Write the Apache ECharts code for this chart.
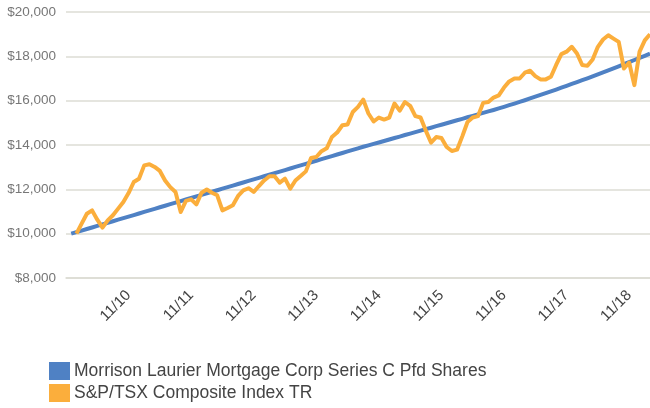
<!DOCTYPE html>
<html>
<head>
<meta charset="utf-8">
<script src="https://cdn.jsdelivr.net/npm/echarts@6/dist/echarts.min.js"></script>
<style>
  html, body { margin: 0; padding: 0; background: #fff; }
  #echarts { width: 650px; height: 408px; }
</style>
</head>
<body>
<div id="echarts"></div>
<script>
    // 图例名称
    var seriesNames = ['Morrison Laurier Mortgage Corp Series C Pfd Shares', 'S&P/TSX Composite Index TR'];

    // 横轴显示的刻度
    var tickLabels = ['11/10', '11/11', '11/12', '11/13', '11/14', '11/15', '11/16', '11/17', '11/18'];

    // 月度数据，第一个为 11/09（空）
    var startYear = 2009;
    var startMonth = 11;

    var blueValues = [null,
        10000, 10070, 10140, 10210, 10280, 10350, 10420, 10490, 10560, 10630, 10700, 10770,
        10840, 10910, 10980, 11050, 11120, 11190, 11260, 11330, 11400, 11470, 11540, 11610,
        11680, 11750, 11820, 11890, 11960, 12030, 12100, 12170, 12240, 12310, 12380, 12450,
        12520, 12590, 12660, 12730, 12800, 12870, 12940, 13010, 13080, 13150, 13220, 13290,
        13360, 13430, 13500, 13570, 13640, 13710, 13780, 13850, 13920, 13985, 14050, 14115,
        14180, 14250, 14315, 14380, 14450, 14515, 14580, 14650, 14715, 14780, 14850, 14915,
        14980, 15050, 15115, 15180, 15250, 15315, 15380, 15450, 15515, 15580, 15650, 15720,
        15795, 15870, 15945, 16020, 16100, 16180, 16260, 16340, 16420, 16500, 16585, 16670,
        16755, 16840, 16925, 17010, 17100, 17190, 17280, 17370, 17460, 17550, 17645, 17740,
        17835, 17930, 18025, 18120];

    var orangeValues = [null, null,
        10000, 10450, 10900, 11050, 10630, 10270, 10600, 10830, 11130, 11430, 11830,
        12330, 12480, 13080, 13130, 13010, 12830, 12400, 12100, 11880, 10980, 11480, 11550,
        11320, 11850, 11990, 11850, 11730, 11050, 11160, 11280, 11700, 11950, 12050, 11880,
        12150, 12400, 12590, 12590, 12300, 12480, 12030, 12400, 12600, 12810, 13410, 13460,
        13720, 13850, 14360, 14560, 14890, 14920, 15490, 15720, 16050, 15420, 15060, 15240,
        15150, 15240, 15870, 15550, 15940, 15770, 15300, 15240, 14650, 14110, 14360, 14320,
        13910, 13730, 13790, 14390, 15040, 15240, 15300, 15900, 15940, 16140, 16240, 16590,
        16870, 17000, 17000, 17260, 17350, 17110, 16960, 16960, 17080, 17610, 18100, 18210,
        18430, 18130, 17610, 17570, 17860, 18430, 18760, 18950, 18800, 18650, 17450, 17720,
        16700, 18210, 18720, 19000];

    function pad(n) {
        return n < 10 ? '0' + n : '' + n;
    }

    var months = [];
    for (var i = 0; i < blueValues.length; i++) {
        var k = startMonth - 1 + i;
        months.push(pad(k % 12 + 1) + '/' + String(startYear + Math.floor(k / 12)).slice(2));
    }

    var fontFamily = '"Liberation Sans", Arial, sans-serif';
    var gridColor = '#dcdcd4';

    var myChart = echarts.init(document.getElementById('echarts'));
    var options = {
        animation: false,
        backgroundColor: '#fff',
        grid: {
            left: 66,
            right: 0,
            top: 12,
            bottom: 130,
            containLabel: false
        },
        legend: {
            orient: 'vertical',
            left: 49,
            top: 362,
            padding: 0,
            itemGap: 4,
            itemWidth: 21,
            itemHeight: 18,
            icon: 'rect',
            selectedMode: false,
            textStyle: {
                fontFamily: fontFamily,
                fontSize: 17.5,
                color: '#444',
                padding: [0, 0, 0, -1]
            },
            data: seriesNames
        },
        xAxis: {
            type: 'category',
            boundaryGap: false,
            data: months,
            axisLine: { show: true, lineStyle: { color: gridColor, width: 1.5 } },
            axisTick: { show: false },
            splitLine: { show: false },
            axisLabel: {
                rotate: 45,
                margin: 15,
                fontFamily: fontFamily,
                fontSize: 15,
                color: '#444',
                interval: function (index, value) {
                    return tickLabels.indexOf(value) !== -1;
                }
            }
        },
        yAxis: {
            type: 'value',
            min: 8000,
            max: 20000,
            interval: 2000,
            axisLine: { show: false },
            axisTick: { show: false },
            splitLine: { lineStyle: { color: gridColor, width: 1.5 } },
            axisLabel: {
                margin: 10,
                fontFamily: fontFamily,
                fontSize: 13.5,
                color: '#777',
                formatter: function (v) {
                    return '$' + v.toLocaleString('en-US');
                }
            }
        },
        series: [
            {
                name: seriesNames[0],
                type: 'line',
                data: blueValues,
                symbol: 'none',
                color: '#4f81c4',
                lineStyle: { width: 4, color: '#4f81c4', join: 'round' }
            },
            {
                name: seriesNames[1],
                type: 'line',
                data: orangeValues,
                symbol: 'none',
                color: '#fbae3c',
                lineStyle: { width: 4, color: '#fbae3c', join: 'round' }
            }
        ]
    };
    // 绘制图表
    myChart.setOption(options);
</script>
</body>
</html>
